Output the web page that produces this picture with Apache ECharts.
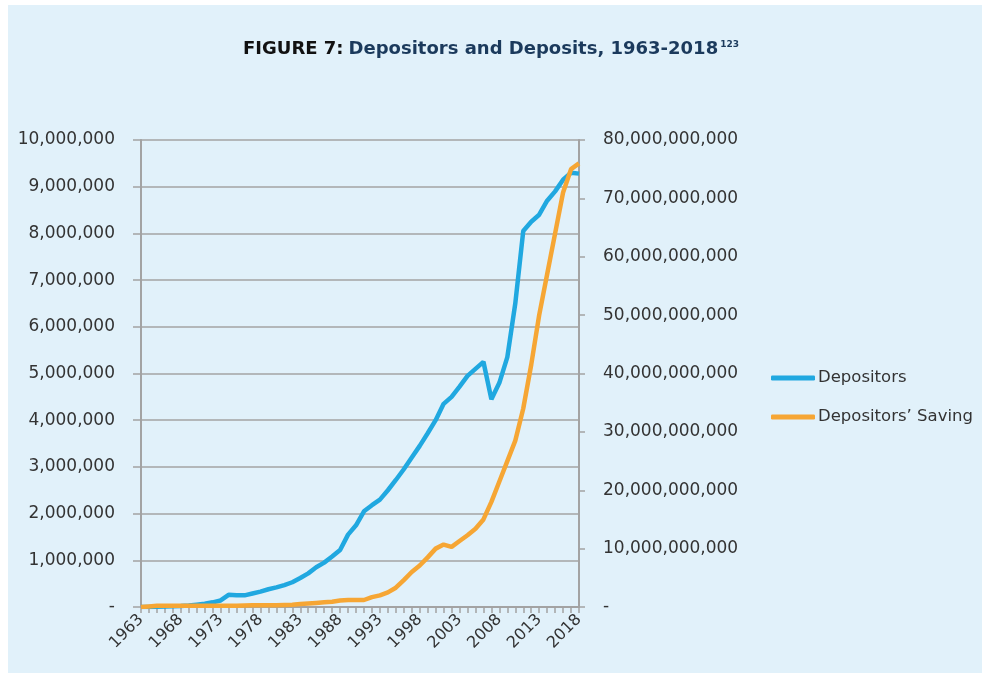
<!DOCTYPE html>
<html>
<head>
<meta charset="utf-8">
<script src="https://cdn.jsdelivr.net/npm/echarts@6/dist/echarts.min.js"></script>
<style>
html,body{margin:0;padding:0;background:#ffffff;}
#chart{width:982px;height:673px;}
</style>
</head>
<body>
<div id="chart"></div>
<script>
var years = [];
for (var y = 1963; y <= 2018; y++) years.push(String(y));

var depositors = [
  0, 0, 5000, 10000, 15000, 20000, 30000, 50000, 70000, 100000,
  140000, 260000, 250000, 250000, 290000, 330000, 380000, 420000, 470000, 530000,
  620000, 720000, 850000, 950000, 1080000, 1220000, 1550000, 1750000, 2050000, 2180000,
  2300000, 2500000, 2720000, 2950000, 3200000, 3450000, 3720000, 4000000, 4350000, 4500000,
  4720000, 4950000, 5100000, 5250000, 4450000, 4800000, 5350000, 6500000, 8050000, 8250000,
  8400000, 8700000, 8900000, 9150000, 9300000, 9280000
];

var savings = [
  0, 0.1e9, 0.2e9, 0.2e9, 0.2e9, 0.2e9, 0.2e9, 0.2e9, 0.2e9, 0.2e9,
  0.2e9, 0.2e9, 0.2e9, 0.25e9, 0.3e9, 0.3e9, 0.3e9, 0.3e9, 0.35e9, 0.4e9,
  0.5e9, 0.6e9, 0.7e9, 0.8e9, 0.9e9, 1.1e9, 1.2e9, 1.2e9, 1.2e9, 1.7e9,
  2.0e9, 2.5e9, 3.3e9, 4.6e9, 6.0e9, 7.1e9, 8.5e9, 10.0e9, 10.7e9, 10.3e9,
  11.3e9, 12.3e9, 13.4e9, 15.0e9, 18.0e9, 21.5e9, 25.0e9, 28.5e9, 34.0e9, 41.5e9,
  50.0e9, 57.0e9, 64.0e9, 71.0e9, 75.0e9, 76.0e9
];

var leftTicks = { min: 0, max: 10000000, step: 1000000 };
var rightTicks = { min: 0, max: 80000000000, step: 10000000000 };

function fmt(v) {
  if (v === 0) return '-';
  return v.toLocaleString('en-US');
}

var FONT = 'DejaVu Sans';
var chart = echarts.init(document.getElementById('chart'));
chart.setOption({
  backgroundColor: '#ffffff',
  animation: false,
  graphic: [{
    type: 'rect', z: -10, silent: true,
    shape: { x: 8, y: 5, width: 974, height: 668 },
    style: { fill: '#e1f1fa' }
  }],
  title: {
    text: '{a|FIGURE 7:} {b|Depositors and Deposits, 1963-2018}{c|123}',
    left: 'center',
    top: 35,
    textStyle: {
      rich: {
        a: { fontFamily: FONT, fontWeight: 'bold', fontSize: 18, color: '#111111' },
        b: { fontFamily: FONT, fontWeight: 'bold', fontSize: 18, color: '#1b3a5c' },
        c: { fontFamily: FONT, fontWeight: 'bold', fontSize: 9, color: '#1b3a5c', verticalAlign: 'top', padding: [0, 0, 10, 2] }
      }
    }
  },
  legend: {
    orient: 'vertical',
    left: 766,
    top: 362,
    itemWidth: 44,
    itemHeight: 5,
    itemGap: 17,
    icon: 'roundRect',
    textStyle: { fontFamily: FONT, fontSize: 16.5, color: '#333333', lineHeight: 22, padding: [0, 0, 0, -2] },
    data: ['Depositors', 'Depositors\u2019 Saving']
  },
  grid: { left: 141, right: 403, top: 140, bottom: 66, containLabel: false },
  xAxis: {
    type: 'category',
    data: years,
    boundaryGap: false,
    axisLine: { lineStyle: { color: '#a3a3a3', width: 2 } },
    axisTick: { show: true, interval: 0, length: 6, lineStyle: { color: '#a3a3a3', width: 1.5 } },
    axisLabel: { interval: 4, rotate: 45, fontFamily: FONT, fontSize: 16, color: '#333333', margin: 10 },
    splitLine: { show: false }
  },
  yAxis: [{
    type: 'value',
    min: leftTicks.min, max: leftTicks.max, interval: leftTicks.step,
    axisLine: { show: true, lineStyle: { color: '#a3a3a3', width: 2 } },
    axisTick: { show: true, length: 8, lineStyle: { color: '#a3a3a3', width: 1.5 } },
    axisLabel: { fontFamily: FONT, fontSize: 17, color: '#333333', margin: 26, formatter: fmt },
    splitLine: { show: true, lineStyle: { color: '#a3a3a3', width: 1.5 } }
  }, {
    type: 'value',
    position: 'right',
    min: rightTicks.min, max: rightTicks.max, interval: rightTicks.step,
    axisLine: { show: true, lineStyle: { color: '#a3a3a3', width: 2 } },
    axisTick: { show: true, length: 6, lineStyle: { color: '#a3a3a3', width: 1.5 } },
    axisLabel: { fontFamily: FONT, fontSize: 17, color: '#333333', margin: 24, formatter: fmt },
    splitLine: { show: false }
  }],
  series: [{
    name: 'Depositors',
    type: 'line',
    yAxisIndex: 0,
    data: depositors,
    showSymbol: false,
    symbol: 'none',
    lineStyle: { color: '#20a8e0', width: 4.5 },
    itemStyle: { color: '#20a8e0' }
  }, {
    name: 'Depositors\u2019 Saving',
    type: 'line',
    yAxisIndex: 1,
    data: savings,
    showSymbol: false,
    symbol: 'none',
    lineStyle: { color: '#f6a634', width: 4.5 },
    itemStyle: { color: '#f6a634' }
  }]
});
</script>
</body>
</html>
